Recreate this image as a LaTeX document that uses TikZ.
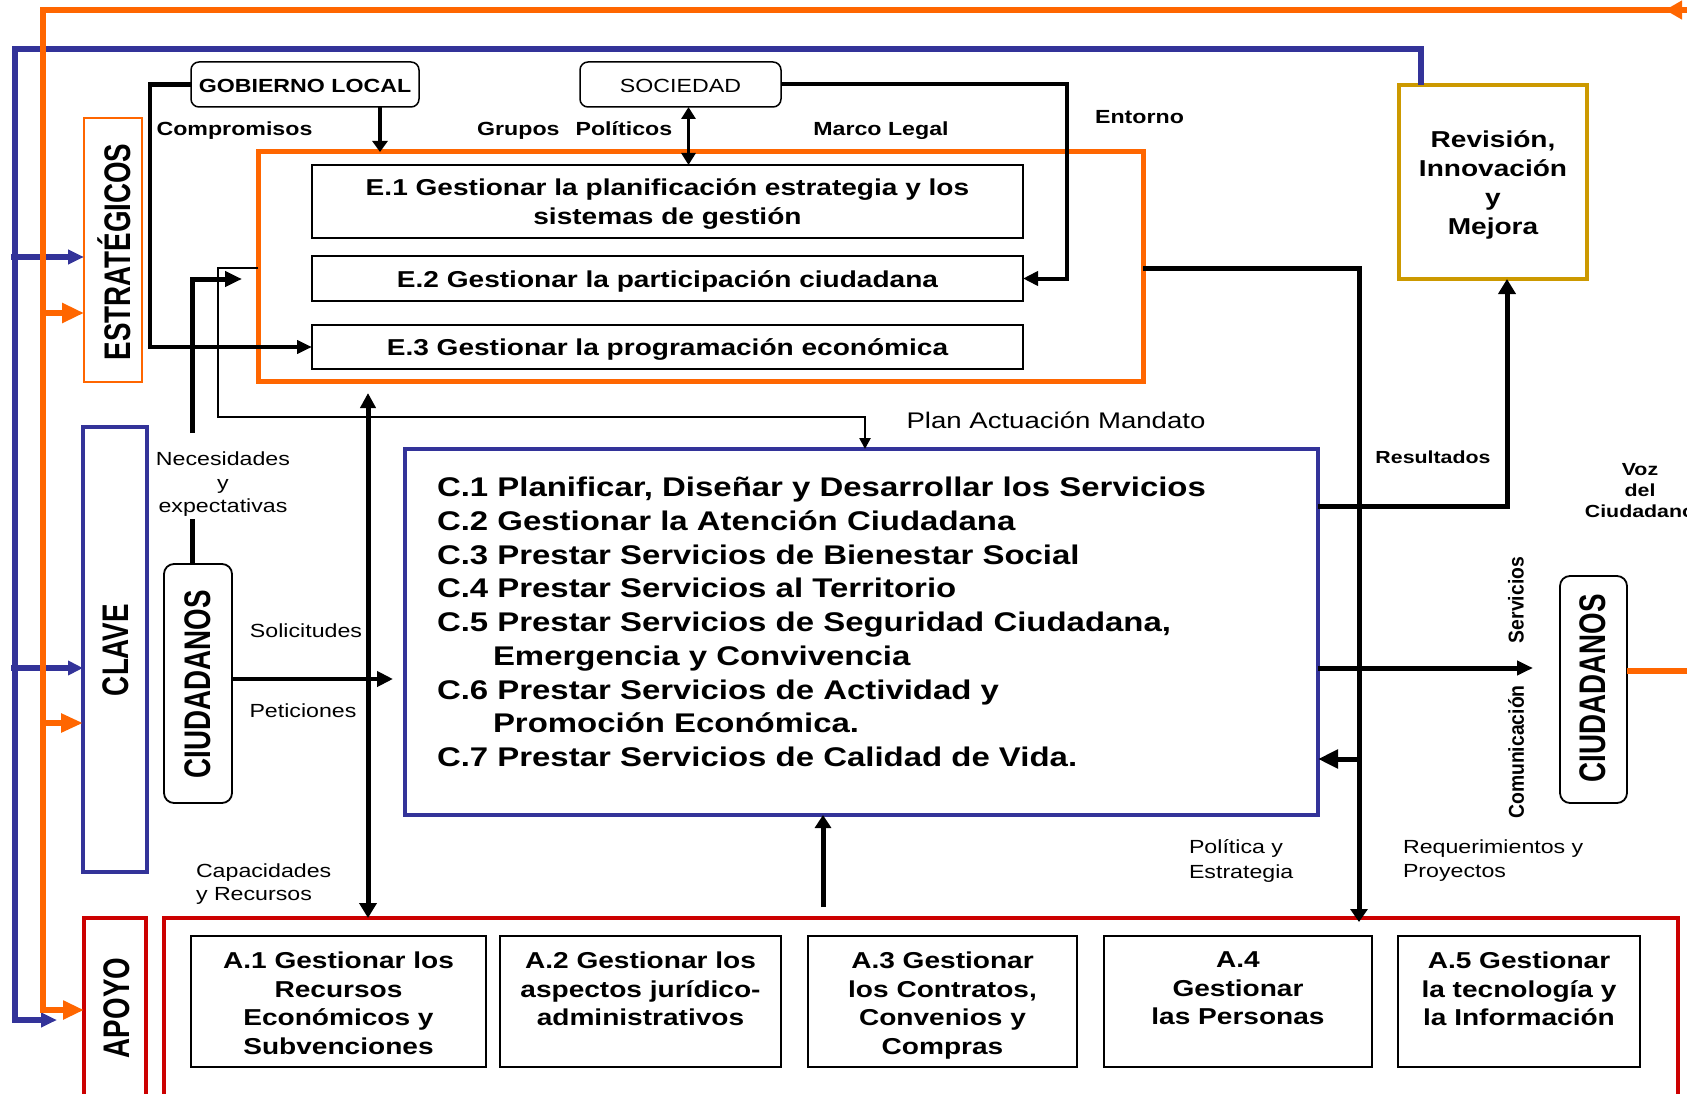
\documentclass[tikz,border=0pt]{standalone}
\usepackage{fontspec}
\setmainfont{Liberation Sans}[FakeStretch=1.22]
\newfontfamily\rotfont{Liberation Sans}[FakeStretch=0.75]
\newfontfamily\svcfont{Liberation Sans}[FakeStretch=0.9]
\usetikzlibrary{arrows.meta}
\newcommand{\myfs}[2]{\fontsize{#1pt}{#2pt}\selectfont}
\definecolor{myorange}{RGB}{255,102,0}
\definecolor{myblue}{RGB}{51,51,153}
\definecolor{myred}{RGB}{204,0,0}
\definecolor{mygold}{RGB}{204,153,0}
\begin{document}
\begin{tikzpicture}[x=1pt,y=-1pt,
  every node/.style={inner sep=0pt, outer sep=0pt},
  oline/.style={draw=myorange, line width=6.5pt},
  bline/.style={draw=myblue, line width=5.5pt},
  ebx/.style={draw, line width=1.5pt, minimum width=711},
  etx/.style={font=\bfseries\myfs{23}{29}, align=center},
  abx/.style={draw, line width=1.5pt, minimum height=131},
  atx/.style={anchor=north, align=center, font=\bfseries\myfs{23}{28.5}},
  rtx/.style={rotate=90, font=\rotfont\bfseries\myfs{37}{40}},
  lbl/.style={font=\bfseries\myfs{19}{22}},
  nlbl/.style={font=\myfs{19}{22}},
  rbox/.style={draw, rounded corners=10pt, line width=1.8pt},
  blk/.style={draw, line join=miter},
]
\useasboundingbox (0,0) rectangle (1687,1094);

% ---------- boxes ----------
\node[draw=myorange, line width=1.8pt, minimum width=58, minimum height=264] (estr) at (113,250) {};
\node[rtx] (estrT) at (114,252) {ESTRATÉGICOS};
\node[draw=myblue, line width=4.5pt, minimum width=64, minimum height=445] (clave) at (115,649.5) {};
\node[rtx] (claveT) at (116,650) {CLAVE};
\node[draw=myred, line width=4.5pt, minimum width=62, minimum height=210] (apoyo) at (115,1023) {};
\node[rtx] (apoyoT) at (117,1008) {APOYO};
\node[draw=myred, line width=4.5pt, minimum width=1514, minimum height=210] (apoyoOut) at (921,1023) {};

\node[rbox, rounded corners=8pt, line width=1.5pt, minimum width=228, minimum height=45] (gob) at (305,84.5) {};
\node[font=\bfseries\myfs{19}{22}] (gobT) at (305,86) {GOBIERNO LOCAL};
\node[rbox, rounded corners=8pt, line width=1.5pt, minimum width=201, minimum height=45] (soc) at (680.5,84.5) {};
\node[font=\myfs{19}{22}] (socT) at (680.5,86) {SOCIEDAD};

\node[draw=myorange, line width=5pt, minimum width=885, minimum height=229] (ebox) at (700.5,266.5) {};
\node[ebx, minimum height=73] (e1) at (667.5,201.5) {};
\node[ebx, minimum height=45] (e2) at (667.5,278.5) {};
\node[ebx, minimum height=44] (e3) at (667.5,347) {};
\node[etx] (e1t) at (667.5,204.5) {E.1 Gestionar la planificación estrategia y los\\sistemas de gestión};
\node[etx] (e2t) at (667.5,281.5) {E.2 Gestionar la participación ciudadana};
\node[etx] (e3t) at (667.5,350) {E.3 Gestionar la programación económica};

\node[draw=myblue, line width=4pt, minimum width=913, minimum height=366] (cbox) at (861.5,632) {};
\node[anchor=north west, align=left, font=\bfseries\myfs{27}{33.75}] (ctext) at (437,477) {C.1 Planificar, Diseñar y Desarrollar los Servicios\\
C.2 Gestionar la Atención Ciudadana\\
C.3 Prestar Servicios de Bienestar Social\\
C.4 Prestar Servicios al Territorio\\
C.5 Prestar Servicios de Seguridad Ciudadana,\\
\hspace*{56pt}Emergencia y Convivencia\\
C.6 Prestar Servicios de Actividad y\\
\hspace*{56pt}Promoción Económica.\\
C.7 Prestar Servicios de Calidad de Vida.};

\node[rbox, minimum width=68, minimum height=239] (ciudL) at (198,683.5) {};
\node[rtx] (ciudLT) at (198,684) {CIUDADANOS};
\node[rbox, minimum width=67, minimum height=227] (ciudR) at (1593.5,689.5) {};
\node[rtx] (ciudRT) at (1593,688.5) {CIUDADANOS};

\node[draw=mygold, line width=4.5pt, minimum width=188, minimum height=194] (rev) at (1493,182) {};
\node[align=center, font=\bfseries\myfs{23}{29.3}] (revT) at (1493,185) {Revisión,\\Innovación\\y\\Mejora};

\node[abx, minimum width=295] (a1) at (338.5,1001.5) {};
\node[abx, minimum width=281] (a2) at (640.5,1001.5) {};
\node[abx, minimum width=269] (a3) at (942.5,1001.5) {};
\node[abx, minimum width=268] (a4) at (1238,1001.5) {};
\node[abx, minimum width=242] (a5) at (1519,1001.5) {};
\node[atx] (a1t) at (338.5,952) {A.1 Gestionar los\\Recursos\\Económicos y\\Subvenciones};
\node[atx] (a2t) at (640.5,952) {A.2 Gestionar los\\aspectos jurídico-\\administrativos};
\node[atx] (a3t) at (942.5,952) {A.3 Gestionar\\los Contratos,\\Convenios y\\Compras};
\node[atx] (a4t) at (1238,952) {A.4\\Gestionar\\las Personas};
\node[atx] (a5t) at (1519,952) {A.5 Gestionar\\la tecnología y\\la Información};

% ---------- labels ----------
\node[lbl] (compr) at (234.5,131) {Compromisos};
\node[lbl] (grup) at (574.7,131) {Grupos\hspace{16pt}Políticos};
\node[lbl] (marco) at (881,131) {Marco Legal};
\node[lbl] (ent) at (1139.5,117) {Entorno};
\node[font=\myfs{22.6}{26}] (plan) at (1056,420) {Plan Actuación Mandato};
\node[align=center, font=\myfs{19}{23.5}] (nec) at (223,484.5) {Necesidades\\y\\expectativas};
\node[nlbl] (sol) at (306,631) {Solicitudes};
\node[nlbl] (pet) at (303,711) {Peticiones};
\node[anchor=north west, align=left, font=\myfs{19}{23}] (cap) at (196,864) {Capacidades\\y Recursos};
\node[anchor=north west, align=left, font=\myfs{19}{25}] (pol) at (1189,840) {Política y\\Estrategia};
\node[anchor=north west, align=left, font=\myfs{19}{24}] (req) at (1403,840) {Requerimientos y\\Proyectos};
\node[font=\bfseries\myfs{17.5}{20}] (res) at (1433,457) {Resultados};
\node[align=center, font=\bfseries\myfs{17.5}{21}] (voz) at (1640,491) {Voz\\del\\Ciudadano};
\node[rotate=90, font=\svcfont\bfseries\myfs{21.5}{24}] (serv) at (1516,600) {Servicios};
\node[rotate=90, font=\svcfont\bfseries\myfs{21.5}{24}] (com) at (1516,752) {Comunicación};

% ---------- orange feedback ----------
\coordinate (oTR) at (1690,10);
\coordinate (oTip) at (1665,10);
\coordinate (oTL) at (43,10);
\coordinate (oBL) at (43,1010);
\coordinate (oE) at (43,313);
\coordinate (oC) at (43,723);
\coordinate (o2) at (1690,671);

% ---------- blue feedback ----------
\coordinate (bR) at (1421,49);
\coordinate (bTL) at (15,49);
\coordinate (bBL) at (15,1020);
\coordinate (bTip) at (57,1020);
\coordinate (bE) at (11,257);
\coordinate (bC) at (11,668);

\draw[bline, -{Triangle[length=16pt,width=14pt]}] (bR |- rev.north) -- (bR) -- (bTL) -- (bBL) -- (bTip);
\draw[bline, -{Triangle[length=16pt,width=14pt]}] (bE) -- (bE -| estr.west);
\draw[bline, -{Triangle[length=15pt,width=14pt]}] (bC) -- (bC -| clave.west);

\draw[oline, -{Triangle[length=21pt,width=18pt]}] (oTR) -- (oTL) -- (oBL) -- (oBL -| apoyo.west);
\draw[oline, -{Triangle[length=17pt,width=18pt]}] (oTR) -- (oTip);
\draw[oline, -{Triangle[length=22pt,width=19pt]}] (oE) -- (oE -| estr.west);
\draw[oline, -{Triangle[length=22pt,width=18pt]}] (oC) -- (oC -| clave.west);
\draw[oline] (o2 -| ciudR.east) -- (o2);

% ---------- black connectors ----------
\coordinate (gL) at (150,84.5);
\draw[blk, line width=4.5pt, -{Triangle[length=15pt,width=13pt]}] (gob.west) -- (gL) |- (e3.west);
\draw[blk, line width=4pt, -{Triangle[length=11pt,width=15pt]}] ([xshift=75pt]gob.south) -- ([xshift=75pt]gob.south |- ebox.north);
\draw[blk, line width=3.5pt, {Triangle[length=12pt,width=14pt]}-{Triangle[length=12pt,width=14pt]}] ([xshift=8pt]soc.south) -- ([xshift=8pt]soc.south |- e1.north);
\coordinate (entC) at (1066.6,84.5);
\draw[blk, line width=4pt, -{Triangle[length=15pt,width=14pt]}] (soc.east) -- (entC) |- (e2.east);

\coordinate (n1) at (192,519);
\coordinate (n2) at (192,433);
\coordinate (n3) at (242,279);
\draw[blk, line width=5pt] (n1 |- ciudL.north) -- (n1);
\draw[blk, line width=5pt, -{Triangle[length=17pt,width=15pt]}] (n2) |- (n3);

\coordinate (p1) at (218,268);
\coordinate (p3) at (865,417);
\draw[blk, line width=2.5pt, -{Triangle[length=11pt,width=11pt]}] (p1 -| ebox.west) -- (p1) |- (p3) -- (p3 |- cbox.north);

\coordinate (d1) at (368,393);
\draw[blk, line width=5pt, {Triangle[length=15pt,width=15pt]}-{Triangle[length=15pt,width=17pt]}] (d1) -- (d1 |- apoyoOut.north);

\coordinate (s0) at (232,679);
\coordinate (sTip) at (393,679);
\draw[blk, line width=4.5pt, -{Triangle[length=16pt,width=15pt]}] (ciudL.east |- s0) -- (sTip);

\coordinate (ac) at (823,907);
\draw[blk, line width=5pt, -{Triangle[length=13pt,width=16pt]}] (ac) -- (ac |- cbox.south);

\coordinate (r1) at (1359,268);
\coordinate (r2) at (1359,759);
\draw[blk, line width=5pt, -{Triangle[length=13pt,width=17pt]}] (r1 -| ebox.east) -- (r1) -- ([yshift=-4pt]r1 |- apoyoOut.north);
\draw[blk, line width=5pt, -{Triangle[length=20pt,width=18pt]}] (r2) -- (r2 -| cbox.east);

\coordinate (q1) at (1507,506);
\draw[blk, line width=5pt, -{Triangle[length=15pt,width=17pt]}] (q1 -| cbox.east) -- (q1) -- (q1 |- rev.south);

\coordinate (sv) at (1533,668);
\draw[blk, line width=5pt, -{Triangle[length=16pt,width=14pt]}] (sv -| cbox.east) -- (sv);
\end{tikzpicture}
\end{document}
